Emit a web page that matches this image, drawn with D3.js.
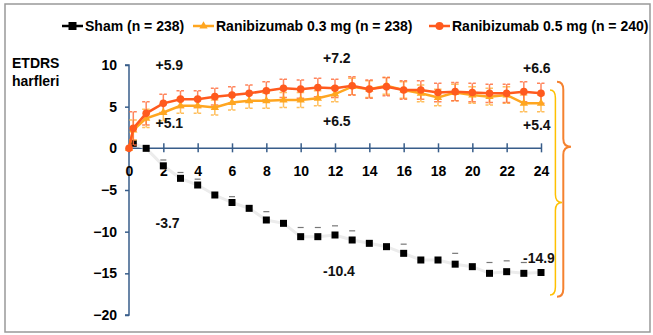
<!DOCTYPE html>
<html>
<head>
<meta charset="utf-8">
<script src="https://cdn.jsdelivr.net/npm/d3@7"></script>
<style>
  html, body { margin: 0; padding: 0; background: #fff; }
  svg text { font-family: "Liberation Sans", Arial, sans-serif; }
</style>
</head>
<body>
<div id="chart"></div>
<script>
// Months on the x axis (first visit after baseline is week 1)
const months = [0, 0.25, 1, 2, 3, 4, 5, 6, 7, 8, 9, 10, 11, 12, 13, 14, 15, 16, 17, 18, 19, 20, 21, 22, 23, 24];

// Mean change in ETDRS letters
const sham = [0, 0.6, 0, -2.1, -3.6, -4.4, -5.6, -6.5, -7.2, -8.6, -9.0, -10.6, -10.6, -10.4, -11.0, -11.4, -11.8, -12.6, -13.4, -13.4, -13.9, -14.2, -15.0, -14.8, -15.0, -14.9];
const ran03 = [0, 2.2, 3.6, 4.3, 5.1, 5.1, 4.9, 5.5, 5.7, 5.7, 5.8, 5.8, 6.0, 6.5, 7.4, 7.1, 7.5, 7.0, 6.6, 6.1, 6.7, 6.4, 6.2, 6.4, 5.4, 5.4];
const ran05 = [0, 2.4, 4.2, 5.4, 5.9, 5.9, 6.2, 6.4, 6.6, 6.9, 7.2, 7.1, 7.3, 7.2, 7.5, 7.1, 7.4, 7.0, 7.0, 6.7, 6.8, 6.7, 6.6, 6.6, 6.8, 6.6];

// Error bar half widths (0 = not drawn)
const shamErr = [0, 0, 0, 0.7, 0.7, 0.7, 0, 0.7, 0, 1.0, 0, 1.1, 1.1, 1.1, 1.1, 0, 0, 1.1, 0, 0, 1.3, 0, 1.3, 1.3, 1.3, 0];
const ran03Err = [0, 1.2, 1.1, 1.0, 0.9, 0.9, 0.9, 0.9, 0.9, 0.9, 0.9, 0.9, 0.9, 0.9, 1.0, 1.0, 1.0, 1.0, 1.0, 1.0, 1.0, 1.0, 1.0, 1.0, 1.0, 1.0];
const ran05Err = [0, 2.0, 1.4, 1.1, 1.0, 1.0, 1.0, 1.0, 1.0, 1.1, 1.1, 1.1, 1.1, 1.1, 1.1, 1.1, 1.1, 1.1, 1.1, 1.1, 1.1, 1.1, 1.1, 1.1, 1.2, 1.2];

const xTicks = [0, 2, 4, 6, 8, 10, 12, 14, 16, 18, 20, 22, 24];
const yTicks = [10, 5, 0, -5, -10, -15, -20];

const legendNames = ["Sham (n = 238)", "Ranibizumab 0.3 mg (n = 238)", "Ranibizumab 0.5 mg (n = 240)"];

// Value callouts: [month, value, text]
const callouts = [
  [3, 9.4, "+5.9"], [3, 2.4, "+5.1"],
  [12, 10.3, "+7.2"], [12, 2.7, "+6.5"],
  [24, 9.0, "+6.6"], [24, 2.2, "+5.4"],
  [3, -9.6, "-3.7"], [12, -15.3, "-10.4"], [24, -13.8, "-14.9"]
];

const width = 653, height = 335;
const C_SHAM = "#000000", C_03 = "#FFA620", C_05 = "#FF5A1E";
const AXIS = "#385D8A";

const svg = d3.select("#chart").append("svg")
  .attr("width", width)
  .attr("height", height);

// frame
svg.append("rect")
  .attr("x", 5).attr("y", 4)
  .attr("width", 645).attr("height", 328)
  .attr("fill", "#fff")
  .attr("stroke", "#999").attr("stroke-width", 1.5);

const x = d3.scaleLinear().domain([0, 24]).range([129, 541]);
const y = d3.scaleLinear().domain([-20, 10]).range([315, 65]);

// y axis
const yAxis = svg.append("g")
  .attr("transform", `translate(${x(0)},0)`)
  .call(d3.axisLeft(y).tickValues(yTicks).tickSize(4).tickPadding(8));
yAxis.select(".domain").attr("stroke", AXIS).attr("stroke-width", 1.5)
  .attr("d", `M-4,${y(10)}H0V${y(-20)}H-4`);
yAxis.selectAll(".tick line").attr("stroke", AXIS).attr("stroke-width", 1.5);
yAxis.selectAll(".tick").filter(d => d === 0).select("line").remove();
yAxis.selectAll(".tick text")
  .style("font-size", "14px").style("font-weight", "bold").attr("fill", "#000");

// x axis at y = 0, ticks crossing the line
const xAxis = svg.append("g")
  .attr("transform", `translate(0,${y(0)})`)
  .call(d3.axisTop(x).tickValues(xTicks).tickSize(5).tickFormat(d3.format("d")));
xAxis.select(".domain").attr("stroke", AXIS).attr("stroke-width", 1.5)
  .attr("d", `M${x(0)},0H${x(24)}`);
xAxis.selectAll(".tick line").attr("stroke", AXIS).attr("stroke-width", 1.5)
  .attr("y1", 4).attr("y2", -5);
xAxis.selectAll(".tick text")
  .attr("y", 28)
  .style("font-size", "14px").style("font-weight", "bold").attr("fill", "#000");

// y axis title
svg.append("text").attr("x", 12).attr("y", 68).text("ETDRS")
  .style("font-size", "14px").style("font-weight", "bold");
svg.append("text").attr("x", 12).attr("y", 86).text("harfleri")
  .style("font-size", "14px").style("font-weight", "bold");

const rows = (vals, errs) => months.map((m, i) => ({ m, v: vals[i], e: errs[i] }));
const shamData = rows(sham, shamErr);
const d03 = rows(ran03, ran03Err);
const d05 = rows(ran05, ran05Err);

const line = d3.line().x(d => x(d.m)).y(d => y(d.v));

// sham: faint connector, upper caps, squares
svg.append("path").datum(shamData.slice(1))
  .attr("d", line).attr("fill", "none")
  .attr("stroke", "#ececec").attr("stroke-width", 3);
svg.selectAll(".sham-cap")
  .data(shamData.filter(d => d.e > 0))
  .enter().append("line")
  .attr("x1", d => x(d.m) - 3).attr("x2", d => x(d.m) + 3)
  .attr("y1", d => y(d.v + d.e)).attr("y2", d => y(d.v + d.e))
  .attr("stroke", "#777").attr("stroke-width", 1.2);
svg.selectAll(".sham-pt")
  .data(shamData.slice(1))
  .enter().append("rect")
  .attr("x", d => x(d.m) - 3.5).attr("y", d => y(d.v) - 3.5)
  .attr("width", 7).attr("height", 7)
  .attr("fill", C_SHAM);

// error bars for the two ranibizumab arms
function errorBars(data, color, cls) {
  const g = svg.append("g").attr("class", cls);
  const eb = data.filter(d => d.e > 0);
  g.selectAll(".v").data(eb).enter().append("line")
    .attr("x1", d => x(d.m)).attr("x2", d => x(d.m))
    .attr("y1", d => y(d.v - d.e)).attr("y2", d => y(d.v + d.e))
    .attr("stroke", color).attr("stroke-width", 1.5).attr("opacity", 0.85);
  [-1, 1].forEach(s => {
    g.selectAll(".c" + s).data(eb).enter().append("line")
      .attr("x1", d => x(d.m) - 4).attr("x2", d => x(d.m) + 4)
      .attr("y1", d => y(d.v + s * d.e)).attr("y2", d => y(d.v + s * d.e))
      .attr("stroke", color).attr("stroke-width", 1.5)
      .attr("stroke-dasharray", "3,1.5").attr("opacity", 0.85);
  });
}
errorBars(d03, "#FFB440", "err03");
errorBars(d05, "#FF7040", "err05");

// 0.3 mg line and triangles
svg.append("path").datum(d03).attr("d", line)
  .attr("fill", "none").attr("stroke", C_03).attr("stroke-width", 2.5);
const tri = d3.symbol().type(d3.symbolTriangle).size(30);
svg.selectAll(".pt03").data(d03).enter().append("path")
  .attr("d", tri)
  .attr("transform", d => `translate(${x(d.m)},${y(d.v)})`)
  .attr("fill", C_03);

// 0.5 mg line and circles
svg.append("path").datum(d05).attr("d", line)
  .attr("fill", "none").attr("stroke", C_05).attr("stroke-width", 2.5);
svg.selectAll(".pt05").data(d05).enter().append("circle")
  .attr("cx", d => x(d.m)).attr("cy", d => y(d.v)).attr("r", 3.8)
  .attr("fill", C_05);

// callouts
svg.selectAll(".callout").data(callouts).enter().append("text")
  .attr("x", d => x(d[0]) + (d[0] === 24 ? -18 : d[0] === 12 ? -12 : -25))
  .attr("y", d => y(d[1]))
  .text(d => d[2])
  .style("font-size", "14px").style("font-weight", "bold").attr("fill", "#111");

// braces on the right
function brace(xl, top, tip, bot, w, color, sw) {
  const r = 8, xm = xl + w * 0.45;
  const p = `M${xl},${top} Q${xm},${top} ${xm},${top + r} L${xm},${tip - r} ` +
    `Q${xm},${tip} ${xl + w},${tip} Q${xm},${tip} ${xm},${tip + r} ` +
    `L${xm},${bot - r} Q${xm},${bot} ${xl},${bot}`;
  svg.append("path").attr("d", p).attr("fill", "none")
    .attr("stroke", color).attr("stroke-width", sw);
}
brace(x(24) + 9, y(7.0), y(-6.5), y(-17.6), 12, "#FFC000", 1.5);
brace(x(24) + 16, y(8.0), y(0.2), y(-17.8), 14, "#F58230", 2);

// legend
const legendX = [62, 193, 429];
const legendColors = [C_SHAM, C_03, C_05];
const ly = 26;
legendNames.forEach((name, i) => {
  const g = svg.append("g");
  g.append("line")
    .attr("x1", legendX[i]).attr("x2", legendX[i] + 21)
    .attr("y1", ly).attr("y2", ly)
    .attr("stroke", legendColors[i]).attr("stroke-width", 2.5);
  const cx = legendX[i] + 10.5;
  if (i === 0) {
    g.append("rect").attr("x", cx - 4).attr("y", ly - 4).attr("width", 8).attr("height", 8).attr("fill", C_SHAM);
  } else if (i === 1) {
    g.append("path").attr("d", tri).attr("transform", `translate(${cx},${ly})`).attr("fill", C_03);
  } else {
    g.append("circle").attr("cx", cx).attr("cy", ly).attr("r", 4).attr("fill", C_05);
  }
  g.append("text").attr("x", legendX[i] + 23).attr("y", ly + 5)
    .text(name)
    .style("font-size", "14px").style("font-weight", "bold");
});
</script>
</body>
</html>
